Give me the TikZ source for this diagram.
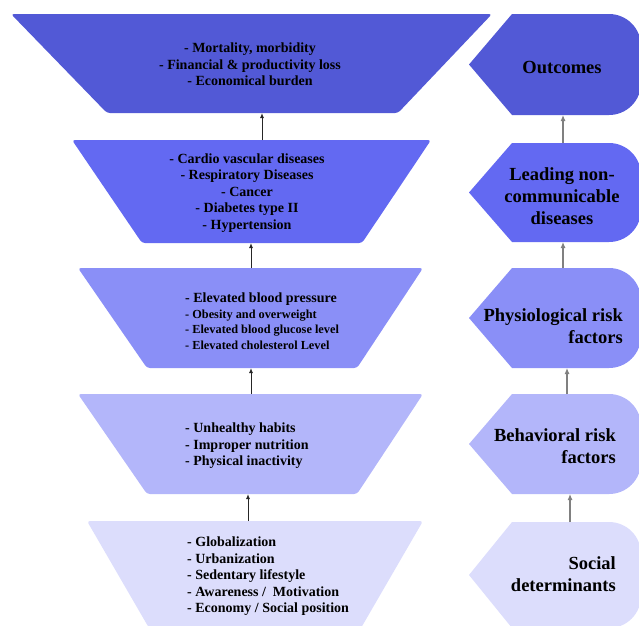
\documentclass[tikz,border=0pt]{standalone}
\usepackage{fontspec}
\setmainfont{Liberation Serif}
\usetikzlibrary{arrows.meta, positioning}

\definecolor{lvlone}{RGB}{82,89,214}
\definecolor{lvltwo}{RGB}{99,105,242}
\definecolor{lvlthree}{RGB}{138,143,247}
\definecolor{lvlfour}{RGB}{179,182,250}
\definecolor{lvlfive}{RGB}{220,221,252}

\begin{document}
\begin{tikzpicture}[
    x=1pt, y=1pt,
    every node/.style={text=black, inner sep=0pt},
    listtext/.style={font=\fontsize{14}{16.5}\selectfont\bfseries},
    centerlist/.style={listtext, align=center},
    leftlist/.style={listtext, align=left, anchor=west},
    levelname/.style={font=\fontsize{18.5}{22}\selectfont\bfseries},
    trap/.style={rounded corners=3pt},
    arrow/.style={-{Latex[length=5pt, width=4pt]}, line width=1pt, black!85},
    greyarrow/.style={-{Latex[length=6pt, width=5pt]}, line width=1.1pt, gray}
]
    \clip (0,0) rectangle (639,-625);

    % Trapezoids (left column)
    \fill[lvlone, trap]   (11,-14)  -- (492,-14)  -- (398,-113) -- (107,-113) -- cycle;
    \fill[lvltwo, trap]   (72,-140) -- (431,-140) -- (362,-243) -- (142,-243) -- cycle;
    \fill[lvlthree, trap] (78,-268) -- (423,-268) -- (357,-368) -- (147,-368) -- cycle;
    \fill[lvlfour, trap]  (78,-394) -- (423,-394) -- (357,-494) -- (147,-494) -- cycle;
    \fill[lvlfive, trap]  (87,-521) -- (423,-521) -- (361,-628) -- (149,-628) -- cycle;

    % Level shapes (right column)
    \fill[lvlone]   (512,-14)  -- (609,-14)  arc[start angle=90, end angle=0, radius=32] -- (641,-83)  arc[start angle=0, end angle=-90, radius=32] -- (512,-115) -- (469,-64.5) -- cycle;
    \fill[lvltwo]   (512,-143) -- (609,-143) arc[start angle=90, end angle=0, radius=32] -- (641,-210) arc[start angle=0, end angle=-90, radius=32] -- (512,-242) -- (469,-192.5) -- cycle;
    \fill[lvlthree] (512,-268) -- (609,-268) arc[start angle=90, end angle=0, radius=32] -- (641,-336) arc[start angle=0, end angle=-90, radius=32] -- (512,-368) -- (469,-318) -- cycle;
    \fill[lvlfour]  (512,-394) -- (609,-394) arc[start angle=90, end angle=0, radius=32] -- (641,-462) arc[start angle=0, end angle=-90, radius=32] -- (512,-494) -- (469,-444) -- cycle;
    \fill[lvlfive]  (512,-522) -- (609,-522) arc[start angle=90, end angle=0, radius=32] -- (641,-596) arc[start angle=0, end angle=-90, radius=32] -- (512,-628) -- (469,-575) -- cycle;

    % Texts
    \node (burden) [centerlist] at (250,-64.5) {- Mortality, morbidity\\- Financial \& productivity loss\\- Economical burden};
    \node (diseases) [centerlist] at (247,-193) {- Cardio vascular diseases\\- Respiratory Diseases\\- Cancer\\- Diabetes type II\\- Hypertension};
    \node (physio) [leftlist, font=\fontsize{12.3}{15.5}\selectfont\bfseries] at (185,-321) {{\fontsize{14}{15.5}\selectfont - Elevated blood pressure}\\- Obesity and overweight\\- Elevated blood glucose level\\- Elevated cholesterol Level};
    \node (behav) [leftlist] at (185,-446) {- Unhealthy habits\\- Improper nutrition\\- Physical inactivity};
    \node (social) [leftlist] at (187,-576.5) {- Globalization\\- Urbanization\\- Sedentary lifestyle\\- Awareness /~~Motivation\\- Economy / Social position};

    \node (outcomes) [levelname] at (562,-67) {Outcomes};
    \node (ncd) [levelname, align=center] at (562,-196) {Leading non-\\communicable\\diseases};
    \node (physrisk) [levelname, align=right, anchor=east] at (623,-326) {Physiological risk\\factors};
    \node (behrisk) [levelname, align=right, anchor=east] at (616,-446) {Behavioral risk\\factors};
    \node (socdet) [levelname, align=right, anchor=east] at (616,-574) {Social\\determinants};

    % Connector ends
    \coordinate (t1b) at (262,-113);  \coordinate (t2t) at (262,-140);
    \coordinate (t2b) at (251,-243);  \coordinate (t3t) at (251,-268);
    \coordinate (t3b) at (251,-368);  \coordinate (t4t) at (251,-394);
    \coordinate (t4b) at (248,-494);  \coordinate (t5t) at (248,-521);
    \coordinate (r1b) at (563,-115);  \coordinate (r2t) at (563,-143);
    \coordinate (r2b) at (563,-242);  \coordinate (r3t) at (563,-268);
    \coordinate (r3b) at (567,-368);  \coordinate (r4t) at (567,-394);
    \coordinate (r4b) at (570,-494);  \coordinate (r5t) at (570,-522);

    % Arrows
    \draw [arrow] (t2t) -- (t1b);
    \draw [arrow] (t3t) -- (t2b);
    \draw [arrow] (t4t) -- (t3b);
    \draw [arrow] (t5t) -- (t4b);
    \draw [greyarrow] (r2t) -- (r1b);
    \draw [greyarrow] (r3t) -- (r2b);
    \draw [greyarrow] (r4t) -- (r3b);
    \draw [greyarrow] (r5t) -- (r4b);
\end{tikzpicture}
\end{document}
